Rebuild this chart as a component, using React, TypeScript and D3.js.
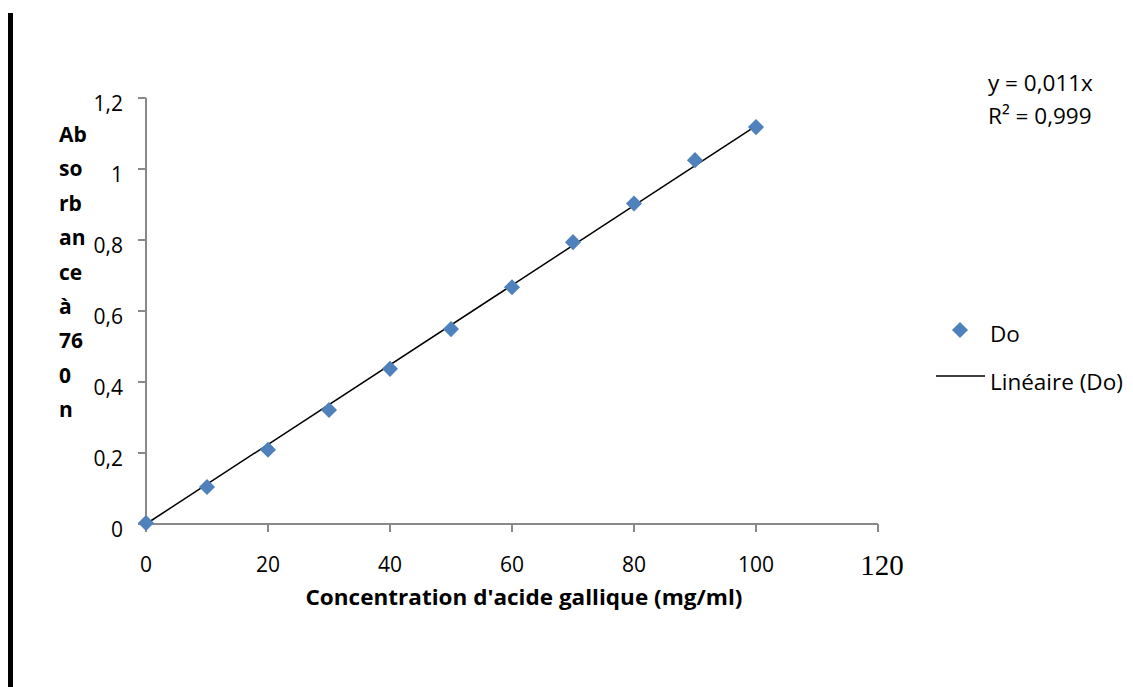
import React from 'react';
import * as d3 from 'd3';

// concentration (mg/ml) and absorbance
const concentrations = [0, 10, 20, 30, 40, 50, 60, 70, 80, 90, 100];
const absorbances = [0.003, 0.104, 0.209, 0.321, 0.437, 0.549, 0.667, 0.794, 0.903, 1.025, 1.118];
const xTicks = [0, 20, 40, 60, 80, 100, 120];
const yTicks = [0, 0.2, 0.4, 0.6, 0.8, 1, 1.2];
const yLabelLines = ['Ab', 'so', 'rb', 'an', 'ce', 'à', '76', '0', 'n'];
const equationLines = ['y = 0,011x', 'R² = 0,999'];

const font = 'Open Sans, Noto Sans, sans-serif';

function App() {
  const width = 1133;
  const height = 687;

  const x = d3.scaleLinear().domain([0, 120]).range([146, 878]);
  const y = d3.scaleLinear().domain([0, 1.2]).range([524, 98]);

  // linear trend through origin (like Excel's "Linéaire" with intercept 0)
  const sxy = d3.sum(concentrations, (c, i) => c * absorbances[i]);
  const sxx = d3.sum(concentrations, c => c * c);
  const slope = sxy / sxx;
  const xMax = d3.max(concentrations) as number;

  const trend = d3.line<number>()
    .x(d => x(d))
    .y(d => y(slope * d));

  const diamond = d3.symbol().type(d3.symbolDiamond2).size(165)();
  const fmt = (v: number) => String(+v.toFixed(1)).replace('.', ',');

  return (
    <svg width={width} height={height}
      style={{ position: 'absolute', left: 0, top: 0, background: '#fff' }}>
      <rect x={8} y={13} width={5} height={674} fill="#000" />

      {/* axes */}
      <g stroke="#898989" strokeWidth={2} fill="none">
        <line x1={x(0)} x2={x(0)} y1={y(1.2)} y2={y(0)} />
        <line x1={x(0)} x2={x(120)} y1={y(0)} y2={y(0)} />
        {yTicks.map(t => (
          <line key={'yt' + t} x1={x(0) - 8} x2={x(0)} y1={y(t)} y2={y(t)} />
        ))}
        {xTicks.map(t => (
          <line key={'xt' + t} x1={x(t)} x2={x(t)} y1={y(0)} y2={y(0) + 8} />
        ))}
      </g>

      <g fontFamily={font} fontSize={21} fill="#000">
        {yTicks.map(t => (
          <text key={'yl' + t} x={123} y={y(t) + 13} textAnchor="end">{fmt(t)}</text>
        ))}
        {xTicks.filter(t => t !== 120).map(t => (
          <text key={'xl' + t} x={x(t)} y={572} textAnchor="middle">{t}</text>
        ))}
      </g>
      <text x={x(120) + 4} y={575} textAnchor="middle" fontFamily="Liberation Serif, Times New Roman, serif" fontSize={29}>120</text>

      {/* trend line */}
      <path d={trend([0, xMax]) || ''} stroke="#000" strokeWidth={1.5} fill="none" />

      {/* points */}
      {concentrations.map((c, i) => (
        <path key={'p' + i} d={diamond || ''} transform={`translate(${x(c)},${y(absorbances[i])})`} fill="#4F81BD" />
      ))}

      {/* y axis title, broken into short lines */}
      <g fontFamily={font} fontSize={21} fontWeight="bold">
        {yLabelLines.map((s, i) => (
          <text key={'yt' + i} x={59} y={142 + i * 34.4}>{s}</text>
        ))}
      </g>

      <text x={524} y={605} textAnchor="middle" fontFamily={font} fontSize={21} fontWeight="bold"
        textLength={437} lengthAdjust="spacingAndGlyphs">
        Concentration d'acide gallique (mg/ml)
      </text>

      {/* equation */}
      <g fontFamily={font} fontSize={22.5}>
        {equationLines.map((s, i) => (
          <text key={'eq' + i} x={988} y={91 + i * 33}>{s}</text>
        ))}
      </g>

      {/* legend */}
      <path d={diamond || ''} transform="translate(960,330)" fill="#4F81BD" />
      <text x={990} y={342} fontFamily={font} fontSize={22.5}>Do</text>
      <line x1={936} x2={985} y1={376} y2={376} stroke="#000" strokeWidth={1.5} />
      <text x={990} y={390} fontFamily={font} fontSize={22.5}>Linéaire (Do)</text>
    </svg>
  );
}

export default App;
